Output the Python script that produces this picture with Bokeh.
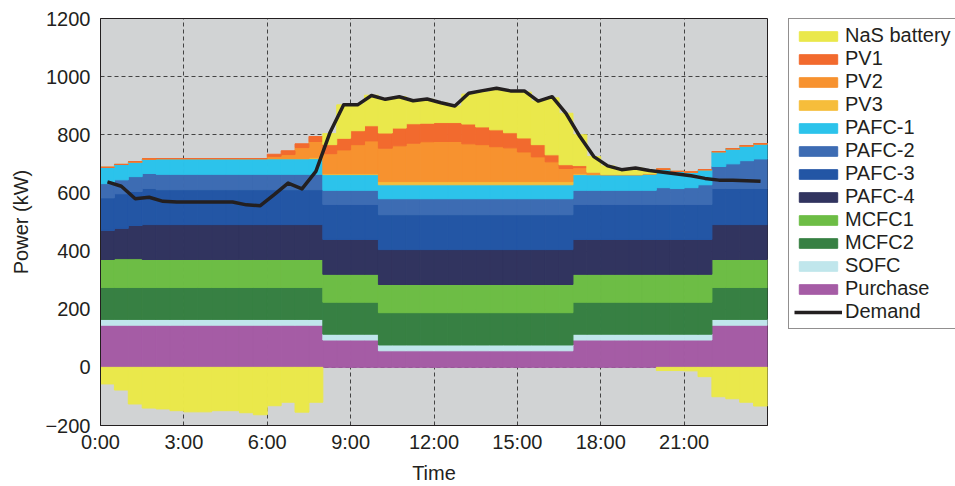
import numpy as np
from bokeh.plotting import figure
from bokeh.layouts import row
from bokeh.models import FixedTicker, Legend, LegendItem, Range1d
from bokeh.embed import file_html
from bokeh.resources import INLINE

# 48 half-hour slots, 0:00 .. 23:30
slot_hours = [i * 0.5 + 0.25 for i in range(48)]

tick_hours = [0, 3, 6, 9, 12, 15, 18, 21]
tick_labels = ["0:00", "3:00", "6:00", "9:00", "12:00", "15:00", "18:00", "21:00"]

purchase = [145] * 16 + [94] * 4 + [57] * 14 + [94] * 10 + [145] * 4
sofc = [20] * 48
mcfc2 = [110] * 16 + [110] * 4 + [111] * 14 + [110] * 10 + [110] * 4
mcfc1 = [96, 99, 99] + [96] * 13 + [96] * 4 + [97] * 14 + [96] * 10 + [96] * 4
pafc4 = [100, 104, 114] + [120] * 13 + [120] * 4 + [120] * 14 + [120] * 10 + [120] * 4
pafc3 = [112, 119, 117, 124] + [120] * 12 + [120] * 4 + [120] * 14 + [120] * 10 + [124] * 4
pafc2 = ([49, 48, 51, 52] + [53] * 12 + [49] * 4 + [55] * 14
         + [49] * 6 + [58, 55, 58, 68] + [76, 85, 96, 102])
pafc1 = ([56, 53, 51, 50] + [54] * 12 + [54] * 4 + [48] * 14
         + [54] * 5 + [57, 64, 59, 54, 52] + [51, 52, 51, 52])
pv3 = [0] * 15 + [3] + [3] * 4 + [11] * 14 + [3] + [0] * 13
pv2 = ([0] * 12 + [8, 14, 38, 56, 69, 82, 100, 113,
        115, 123, 132, 137, 138, 138, 130, 127, 120, 116, 102, 85, 68, 45,
        21, 8] + [0] * 12)
pv1 = ([0] * 12 + [7, 13, 13, 17, 31, 40, 48, 52,
        52, 61, 67, 64, 65, 65, 68, 61, 58, 52, 48, 42, 24, 13,
        7, 0] + [0] * 12)
nas = [-57, -78, -126, -140, -143, -149, -153, -153, -149, -149, -156, -163,
       -132, -120, -154, -120,
       38, 115, 92, 105,
       119, 108, 82, 82, 68, 57, 103, 120, 141, 142, 158, 150, 196, 177,
       106, 54, 30, 17, 23, 11, -11, -11, -12, -32,
       -101, -108, -120, -133]
demand = [638, 623, 580, 585, 571, 569, 569, 569, 569, 569, 559, 556,
          594, 634, 614, 674, 806, 903, 903, 935, 922, 931, 917, 923,
          910, 899, 943, 952, 960, 951, 951, 916, 931, 874, 794, 725,
          693, 680, 686, 677, 671, 665, 659, 650, 644, 644, 642, 640]

colors = {
    "NaS battery": "#EAE84B",
    "PV1": "#F26A2E",
    "PV2": "#F7922F",
    "PV3": "#F6BD3B",
    "PAFC-1": "#2CC3EB",
    "PAFC-2": "#3D6CB3",
    "PAFC-3": "#2356A5",
    "PAFC-4": "#31345F",
    "MCFC1": "#6DBD45",
    "MCFC2": "#378043",
    "SOFC": "#C0E6EC",
    "Purchase": "#A55CA5",
    "Demand": "#231F20",
}

stack = [("Purchase", purchase), ("SOFC", sofc), ("MCFC2", mcfc2), ("MCFC1", mcfc1),
         ("PAFC-4", pafc4), ("PAFC-3", pafc3), ("PAFC-2", pafc2), ("PAFC-1", pafc1),
         ("PV3", pv3), ("PV2", pv2), ("PV1", pv1)]

FONT = "Liberation Sans"
TXT = "#231F20"

p = figure(width=788, height=486, x_range=Range1d(0, 24), y_range=Range1d(-200, 1200),
           output_backend="svg", toolbar_location=None,
           min_border_left=100, min_border_right=21, min_border_top=18, min_border_bottom=59)
p.background_fill_color = "#D1D3D4"
p.border_fill_color = "white"
p.outline_line_color = TXT
p.outline_line_width = 1

base = np.zeros(48)
for name, vals in stack:
    v = np.array(vals, dtype=float)
    top = base + v
    col = colors[name]
    p.vbar(x=slot_hours, width=0.5, bottom=base, top=top,
           fill_color=col, line_color=col, line_width=1)
    base = top

nas_arr = np.array(nas, dtype=float)
nas_bottom = np.where(nas_arr > 0, base, nas_arr)
nas_top = np.where(nas_arr > 0, base + nas_arr, 0)
p.vbar(x=slot_hours, width=0.5, bottom=nas_bottom, top=nas_top,
       fill_color=colors["NaS battery"], line_color=colors["NaS battery"], line_width=1)

p.line(slot_hours, demand, line_color=colors["Demand"], line_width=3.5, line_join="round")

# axes
p.xaxis.ticker = FixedTicker(ticks=tick_hours)
p.xaxis.major_label_overrides = {h: l for h, l in zip(tick_hours, tick_labels)}
p.yaxis.ticker = FixedTicker(ticks=list(range(-200, 1201, 200)))
p.xgrid.ticker = FixedTicker(ticks=tick_hours)
p.ygrid.ticker = FixedTicker(ticks=list(range(-200, 1201, 200)))
for g in (p.xgrid, p.ygrid):
    g.grid_line_color = "#333333"
    g.grid_line_dash = "4 3"
    g.grid_line_width = 1
    g.grid_line_alpha = 0.9

p.xaxis.axis_label = "Time"
p.yaxis.axis_label = "Power (kW)"
for ax in (p.xaxis, p.yaxis):
    ax.axis_line_color = TXT
    ax.major_tick_line_color = None
    ax.minor_tick_line_color = None
    ax.major_tick_out = 0
    ax.major_tick_in = 0
    ax.minor_tick_out = 0
    ax.major_label_text_font = FONT
    ax.major_label_text_font_size = "20px"
    ax.major_label_text_color = TXT
    ax.axis_label_text_font = FONT
    ax.axis_label_text_font_size = "20px"
    ax.axis_label_text_font_style = "normal"
    ax.axis_label_text_color = TXT
p.xaxis.major_label_standoff = 5
p.xaxis.axis_label_standoff = 6
p.yaxis.major_label_standoff = 10
p.yaxis.axis_label_standoff = 10

# legend lives in its own small figure to the right of the chart
lg = figure(width=167, height=486, x_range=Range1d(0, 1), y_range=Range1d(0, 1),
            output_backend="svg", toolbar_location=None,
            x_axis_type=None, y_axis_type=None,
            min_border_left=0, min_border_right=0, min_border_top=18, min_border_bottom=0)
lg.outline_line_color = None
lg.background_fill_color = "white"
lg.border_fill_color = "white"
lg.grid.visible = False

order = ["NaS battery", "PV1", "PV2", "PV3", "PAFC-1", "PAFC-2", "PAFC-3", "PAFC-4",
         "MCFC1", "MCFC2", "SOFC", "Purchase"]
items = []
for n in order:
    # placed outside the visible range: only its legend swatch is seen
    r = lg.vbar(x=[5], width=0.5, top=[6], bottom=[5], fill_color=colors[n], line_color=colors[n])
    items.append(LegendItem(label=n, renderers=[r]))
rd = lg.line(x=[5, 6], y=[5, 6], line_color=colors["Demand"], line_width=3.4)
items.append(LegendItem(label="Demand", renderers=[rd]))

legend = Legend(items=items, location="top_left")
legend.label_text_font = FONT
legend.label_text_font_size = "20px"
legend.label_text_color = TXT
legend.glyph_width = 48
legend.glyph_height = 12
legend.label_height = 23
legend.label_standoff = 3
legend.spacing = 0
legend.padding = 5
legend.margin = 0
legend.border_line_color = TXT
legend.border_line_width = 1
legend.background_fill_color = "white"
legend.background_fill_alpha = 1
lg.add_layout(legend, "center")

layout = row(p, lg, spacing=0)
open("out.html", "w").write(file_html(layout, INLINE))
